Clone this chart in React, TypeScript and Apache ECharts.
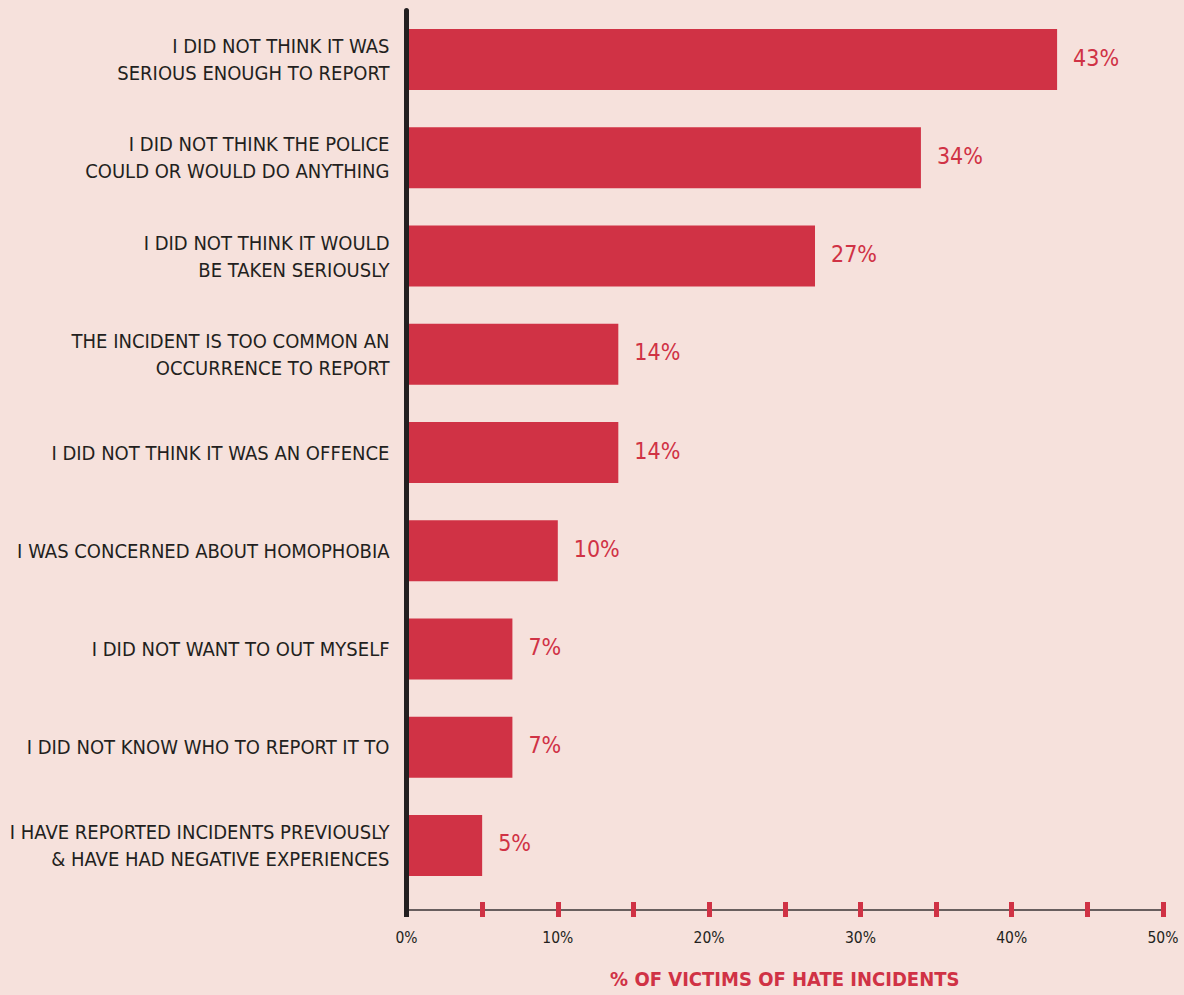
import React, { useEffect, useRef } from "react";
import * as echarts from "echarts";

const categories = [
  "I DID NOT THINK IT WAS\nSERIOUS ENOUGH TO REPORT",
  "I DID NOT THINK THE POLICE\nCOULD OR WOULD DO ANYTHING",
  "I DID NOT THINK IT WOULD\nBE TAKEN SERIOUSLY",
  "THE INCIDENT IS TOO COMMON AN\nOCCURRENCE TO REPORT",
  "I DID NOT THINK IT WAS AN OFFENCE",
  "I WAS CONCERNED ABOUT HOMOPHOBIA",
  "I DID NOT WANT TO OUT MYSELF",
  "I DID NOT KNOW WHO TO REPORT IT TO",
  "I HAVE REPORTED INCIDENTS PREVIOUSLY\n& HAVE HAD NEGATIVE EXPERIENCES",
];
const values = [43, 34, 27, 14, 14, 10, 7, 7, 5];
const axisMin = 0;
const axisMax = 50;
const tickStep = 5;
const axisTitle = "% OF VICTIMS OF HATE INCIDENTS";

const BG = "#f6e1dc";
const RED = "#d03245";
const DARK = "#231f20";
const FONT = "'DejaVu Sans Condensed', 'Liberation Sans', sans-serif";

export default function App() {
  const ref = useRef<HTMLDivElement>(null);
  useEffect(() => {
    document.body.style.margin = "0";
    document.body.style.background = BG;
    const chart = echarts.init(ref.current!, null, { renderer: "svg" });
    const gridLeft = 406.5;
    const gridTop = 10.4;
    const gridBottom = 100.4;
    const axisOffset = 15.4;
    chart.setOption({
      animation: false,
      backgroundColor: BG,
      textStyle: { fontFamily: FONT },
      grid: {
        left: gridLeft,
        right: 21,
        top: gridTop,
        bottom: gridBottom,
        containLabel: false,
        outerBoundsMode: "none",
      },
      xAxis: [
        {
          type: "value",
          min: axisMin,
          max: axisMax,
          interval: tickStep,
          position: "bottom",
          offset: axisOffset,
          splitLine: { show: false },
          axisLine: { show: true, lineStyle: { color: "#3a3334", width: 1.5 } },
          axisTick: { show: true, inside: false, length: 7, lineStyle: { color: RED, width: 5 } },
          axisLabel: {
            margin: 20,
            fontSize: 15.5,
            color: DARK,
            fontFamily: FONT,
            formatter: (v: number) => (v % 10 === 0 ? v + "%" : ""),
          },
          name: axisTitle,
          nameLocation: "middle",
          nameGap: 59,
          nameTextStyle: { color: RED, fontSize: 20, fontWeight: "bold", fontFamily: FONT },
        },
        {
          type: "value",
          min: axisMin,
          max: axisMax,
          interval: tickStep,
          position: "bottom",
          offset: axisOffset,
          splitLine: { show: false },
          axisLine: { show: false },
          axisTick: { show: true, inside: true, length: 8, lineStyle: { color: RED, width: 5 } },
          axisLabel: { show: false },
        },
      ],
      yAxis: {
        type: "category",
        data: categories,
        inverse: true,
        z: 5,
        axisLine: { show: true, lineStyle: { color: DARK, width: 5 } },
        axisTick: { show: false },
        axisLabel: {
          margin: 17,
          fontSize: 20,
          lineHeight: 27,
          color: DARK,
          fontFamily: FONT,
          align: "right",
        },
      },
      graphic: [
        {
          type: "line",
          z: 10,
          shape: { x1: gridLeft, y1: 995 - gridBottom - 1, x2: gridLeft, y2: 995 - gridBottom + axisOffset + 7 },
          style: { stroke: DARK, lineWidth: 5 },
        },
      ],
      series: [
        {
          type: "bar",
          xAxisIndex: 0,
          data: values,
          barWidth: 61,
          itemStyle: { color: RED },
          label: {
            show: true,
            position: "right",
            distance: 16,
            formatter: "{c}%",
            color: RED,
            fontSize: 23,
            fontFamily: FONT,
            offset: [0, -2],
          },
        },
      ],
    });
    return () => chart.dispose();
  }, []);
  return <div ref={ref} style={{ width: 1184, height: 995 }} />;
}
